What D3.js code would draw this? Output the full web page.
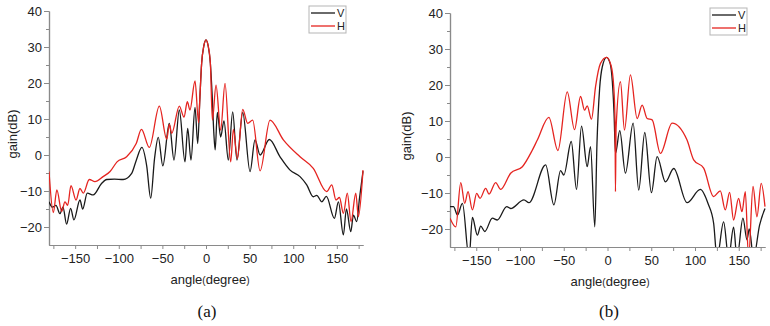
<!DOCTYPE html>
<html><head><meta charset="utf-8">
<script src="https://cdn.jsdelivr.net/npm/d3@7/dist/d3.min.js"></script>
<style>
html,body{margin:0;padding:0;background:#fff;}
svg{display:block;font-family:Arial,"Liberation Sans",sans-serif;}
</style></head><body>
<svg id="chart" width="770" height="326"></svg>
<script>
// ---------------- data ----------------
const seriesNames = ["V", "H"];
const yTicks = [-20, -10, 0, 10, 20, 30, 40];
const yMinor = [-15, -5, 5, 15, 25, 35];
const xTicks = [-150, -100, -50, 0, 50, 100, 150];
const xMinor = [-175, -125, -75, -25, 25, 75, 125, 175];
const captions = ["(a)", "(b)"];

// panel (a), V polarisation  [angle, gain dB]
const aV = [[-180,-13],[-176,-14.5],[-172,-14],[-167.5,-16.3],[-164,-14.5],[-159.8,-19.2],[-155.2,-14.8],[-151.4,-18],
  [-144.5,-12.5],[-141.4,-15],[-136.1,-10.6],[-129.3,-11.1],[-120,-8],[-113.9,-6.8],[-105,-6.7],[-95,-6.8],[-85.2,-5.1],
  [-80,-1.5],[-73.5,2.1],[-68,-3],[-63.4,-12],[-59,-1],[-54.7,4.9],[-49.5,-3],[-42.1,8.8],[-36.7,-1.4],[-30.6,12.5],
  [-24.1,-1.9],[-21,7.4],[-17.2,-1.4],[-12.6,13.2],[-9.5,3.2],[-7,16],[-5,25.5],[-2.5,30.3],[0,32],[2.5,30.3],[5,25.5],
  [7,17],[9,6],[10.5,1.4],[13,11.8],[16.8,5],[20.6,9.5],[25.6,-1.4],[30.6,12],[35.5,-1.4],[42.1,11.8],[50.5,-4.6],
  [56.2,4.2],[62,0],[72.6,4.3],[84.9,-0.5],[96.4,-4.2],[107.8,-6],[115.5,-8.3],[123.1,-11.6],[127,-11.2],[132.7,-13],
  [138,-11.5],[147.2,-17.6],[151.8,-13],[157.5,-22.2],[161,-15],[166,-21.3],[169,-16.7],[172.8,-18.5],[176,-12],[180,-4.5]];
// panel (a), H polarisation
const aH = [[-180,-4.6],[-175,-16],[-171,-9.7],[-165.5,-15.7],[-161.7,-13],[-158.6,-14],[-154.8,-8.5],[-149,-12.5],
  [-144.5,-9.3],[-140.7,-10.6],[-133.8,-6.8],[-127.3,-7.4],[-118,-6],[-110,-4.6],[-102,-1.9],[-91,-0.5],[-80,3.2],
  [-74,7.1],[-65,2.1],[-53.5,13.6],[-45,4.4],[-42,8.5],[-39.3,6],[-30.6,13.6],[-25.2,10.5],[-21.4,14.8],[-18.4,12.5],
  [-12.6,20.6],[-8.5,9],[-7,16],[-5,25.5],[-2.5,30.3],[0,32],[2.5,30.3],[5,25.5],[7.3,9.7],[11.5,19.4],[16.8,6.9],
  [21.8,19.9],[28.3,-1.9],[31.4,7.1],[36,-1],[42.1,12.7],[47.8,8.8],[53.5,9.7],[62,-4.4],[73.4,9.7],[88.7,4.2],
  [107.8,-0.5],[123,-3.7],[138.4,-10.2],[144.2,-8.3],[149,-12.5],[153,-11.8],[157.5,-16.2],[162,-10.6],[166.3,-18.5],
  [171.7,-10.6],[174.7,-17.1],[180,-4.2]];
// panel (b), V polarisation
const bV = [[-180,-13.8],[-176,-13.8],[-171.5,-16.1],[-165.8,-12.9],[-158.2,-28],[-154.4,-16.8],[-148.7,-21.7],
  [-144.9,-19.2],[-140.3,-20.7],[-131.6,-17],[-125.9,-17.5],[-115.2,-13.8],[-110.7,-14.3],[-95.5,-11.9],[-89.8,-12.7],
  [-70.7,-2.2],[-61.3,-13.3],[-53.6,-3.8],[-49.9,-5],[-41.4,4.3],[-35.4,-9],[-29.7,8.6],[-23.2,-2.7],[-19.4,2.9],
  [-14.5,-19.4],[-12,4],[-9,19],[-6,25],[-1.1,27.7],[3,26],[5.5,21],[7.5,12],[9.1,1],[14,7.3],[20.5,-4.5],[29.3,9.4],
  [35.7,-9.2],[42.6,6.8],[50.2,-9.9],[56.7,0.1],[66.2,-6.9],[75.7,-3.2],[90.9,-12.7],[106.1,-9],[115,-13],[121.3,-18.4],
  [125.2,-28],[132.7,-18],[138.4,-28],[144.1,-19.5],[148,-28],[154.8,-17],[159.4,-23],[162,-20],[166.9,-28],
  [173.8,-18.9],[180,-14.3]];
// panel (b), H polarisation
const bH = [[-180,-17],[-173.4,-19.4],[-167.7,-7.1],[-163.2,-12.9],[-159.4,-9.6],[-154.4,-14.7],[-149.5,-10.1],
  [-145.7,-11.5],[-139.2,-8.7],[-135.4,-10.3],[-127.8,-7.1],[-122.1,-9],[-110.7,-4.5],[-97.3,-2.7],[-85.9,1.9],
  [-80.2,4.7],[-67,11],[-56.7,1.8],[-46,18.1],[-37.7,7.6],[-30.8,16.8],[-26.2,13],[-23.2,14.2],[-18.3,10.5],
  [-13.7,19.5],[-8,26],[-1.1,27.7],[4,25.5],[7,20],[8.6,10],[9.1,-9.6],[9.8,8],[14.8,20.9],[19.4,7.5],[26.2,22.8],
  [33.9,10.7],[39.6,14.4],[45.3,10.7],[51,10.3],[60.5,1],[73.8,9.4],[90.9,4.7],[98.5,-0.8],[109.9,-3.1],[121.3,-11],
  [128.9,-9.4],[134.6,-14.7],[139.6,-9.8],[144.1,-17.5],[149.8,-11.5],[153.7,-15.2],[157.5,-9.6],[161.2,-28],
  [166.3,-8.2],[170.8,-16.6],[175.7,-7.3],[180,-13.8]];

const panelData = [[aV, aH], [bV, bH]];

// ---------------- layout ----------------
const colors = {V: "#1a1a1a", H: "#e52420"};
const panels = [
  {x0: 49, x1: 363, yTop: 11, yBot: 245, capX: 207, yLabX: 12, xLabX: 210, legX: 309, legY: 6},
  {x0: 450, x1: 765, yTop: 13, yBot: 247, capX: 609, yLabX: 406, xLabX: 610, legX: 710, legY: 8}
];

const svg = d3.select("#chart");
const defs = svg.append("defs");

panels.forEach((p, i) => {
  const x = d3.scaleLinear().domain([-180, 180]).range([p.x0, p.x1]);
  const y = d3.scaleLinear().domain([-25, 40]).range([p.yBot, p.yTop]);
  const g = svg.append("g");

  defs.append("clipPath").attr("id", "clip" + i)
    .append("rect").attr("x", p.x0).attr("y", p.yTop - 2)
    .attr("width", p.x1 - p.x0 + 1).attr("height", p.yBot - p.yTop + 2);

  // axes
  const axColor = "#8a8a8a";
  const yAx = g.append("g").attr("transform", `translate(${p.x0},0)`)
    .call(d3.axisLeft(y).tickValues(yTicks).tickSize(5).tickSizeOuter(0).tickFormat(d3.format("d")));
  const yAxMin = g.append("g").attr("transform", `translate(${p.x0},0)`)
    .call(d3.axisLeft(y).tickValues(yMinor).tickSize(3).tickSizeOuter(0).tickFormat(""));
  const xAx = g.append("g").attr("transform", `translate(0,${p.yBot})`)
    .call(d3.axisBottom(x).tickValues(xTicks).tickSize(4).tickSizeOuter(0).tickFormat(d3.format("d")));
  const xAxMin = g.append("g").attr("transform", `translate(0,${p.yBot})`)
    .call(d3.axisBottom(x).tickValues(xMinor).tickSize(4).tickSizeOuter(0).tickFormat(""));
  [yAx, yAxMin, xAx, xAxMin].forEach(a => {
    a.select(".domain").attr("stroke", axColor).attr("stroke-width", 1.2);
    a.selectAll(".tick line").attr("stroke", axColor);
    a.selectAll(".tick text").attr("fill", "#222").style("font-size", "13px")
      .style("font-family", "Arial, 'Liberation Sans', sans-serif");
  });
  yAx.selectAll(".tick text").attr("x", -7);
  xAx.selectAll(".tick text").attr("y", 9);

  // lines
  const line = d3.line().x(d => x(d[0])).y(d => y(d[1])).curve(d3.curveMonotoneX);
  const lg = g.append("g").attr("clip-path", `url(#clip${i})`);
  panelData[i].forEach((ser, k) => {
    lg.append("path").datum(ser).attr("d", line)
      .attr("fill", "none").attr("stroke", colors[seriesNames[k]])
      .attr("stroke-width", 1.3).attr("stroke-linejoin", "round");
  });

  // axis titles
  g.append("text").attr("transform", `translate(${p.yLabX},${(p.yTop + p.yBot) / 2 + 6}) rotate(-90)`)
    .attr("text-anchor", "middle").attr("dy", "0.35em").attr("fill", "#222").style("font-size", "13px")
    .text("gain(dB)");
  const xt = g.append("text").attr("x", p.xLabX).attr("y", p.yBot + 39)
    .attr("text-anchor", "middle").attr("fill", "#222").style("font-size", "13px");
  xt.append("tspan").text("angle");
  xt.append("tspan").style("font-size", "10px").text("(");
  xt.append("tspan").text("degree");
  xt.append("tspan").style("font-size", "10px").text(")");

  // legend
  const leg = g.append("g").attr("transform", `translate(${p.legX},${p.legY})`);
  leg.append("rect").attr("width", 37).attr("height", 27).attr("fill", "#fff")
    .attr("stroke", "#b5b5b5").attr("stroke-width", 1);
  seriesNames.forEach((s, k) => {
    const yy = 7 + k * 13;
    leg.append("line").attr("x1", 2).attr("x2", 26).attr("y1", yy).attr("y2", yy)
      .attr("stroke", colors[s]).attr("stroke-width", 1.3);
    leg.append("text").attr("x", 28).attr("y", yy).attr("dy", "0.36em").attr("fill", "#222")
      .style("font-size", "11px").text(s);
  });

  // caption
  svg.append("text").attr("x", p.capX).attr("y", 317).attr("text-anchor", "middle")
    .style("font-family", "'Liberation Serif','DejaVu Serif',serif").style("font-size", "17px")
    .attr("fill", "#111").text(captions[i]);
});
</script>
</body></html>
